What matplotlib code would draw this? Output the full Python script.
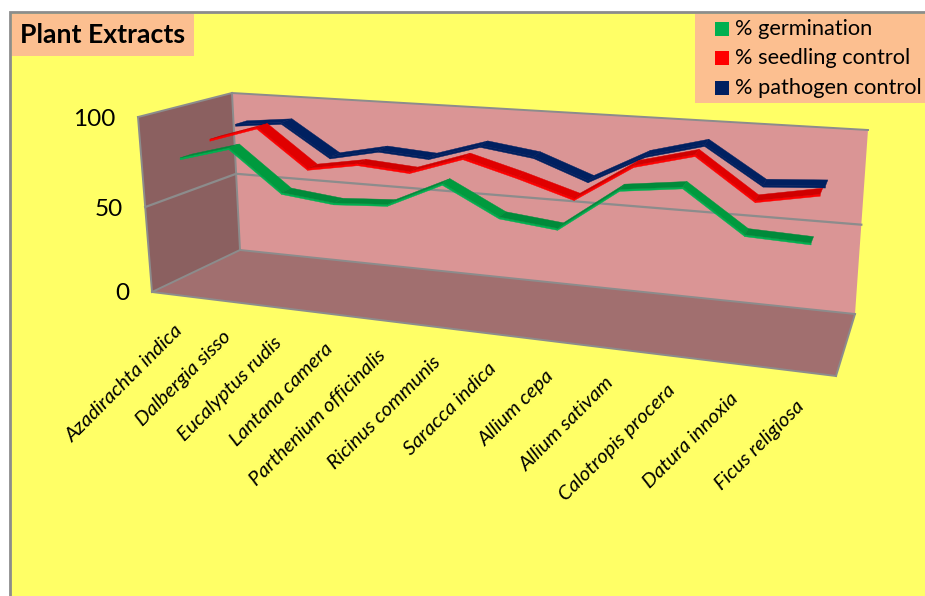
import numpy as np
import matplotlib.pyplot as plt
from matplotlib.patches import Polygon, Rectangle

plt.rcParams['font.family'] = ['Lato', 'DejaVu Sans']

categories = ['Azadirachta indica', 'Dalbergia sisso', 'Eucalyptus rudis', 'Lantana camera',
              'Parthenium officinalis', 'Ricinus communis', 'Saracca indica', 'Allium cepa',
              'Allium sativam', 'Calotropis procera', 'Datura innoxia', 'Ficus religiosa']
germination = [78, 86, 64, 61, 63, 77, 62, 59, 82, 86, 65, 64]
seedling = [83, 92, 71, 76, 74, 84, 76, 67, 87, 95, 74, 80]
pathogen = [87, 90, 72, 78, 76, 85, 81, 70, 86, 94, 75, 77]
y_ticks = [0, 50, 100]
legend_labels = ['% germination', '% seedling control', '% pathogen control']

# corners of the 3D box in pixels: (left/right, bottom/top, front/back)
BOX = {
    (0, 0, 0): (152, 292), (0, 1, 0): (138, 117), (0, 0, 1): (240, 250), (0, 1, 1): (232, 93),
    (1, 0, 0): (836, 376), (1, 1, 0): (854, 176), (1, 0, 1): (855, 314), (1, 1, 1): (868, 130),
}
GRID = '#8c8c8c'


def warp(t, k):
    return t / (t + k * (1 - t))


def project(u, value, w):
    """u along categories (0-1), value 0-100, w depth (0 front, 1 back) -> pixel"""
    fu = warp(u, 1.2)
    fv = warp(value / 100, 1.06)
    p = np.zeros(2)
    for (a, b, c), xy in BOX.items():
        weight = (fu if a else 1 - fu) * (fv if b else 1 - fv) * (w if c else 1 - w)
        p += weight * np.array(xy, dtype=float)
    return p


def cat_u(i):
    return (i + 0.65) / 12.2


def ribbon(ax, values, w0, depth, face, shade, edge):
    for i in range(len(values) - 1):
        a, b = cat_u(i), cat_u(i + 1)
        quad = [project(a, values[i], w0), project(b, values[i + 1], w0),
                project(b, values[i + 1], w0 + depth), project(a, values[i], w0 + depth)]
        col = face if values[i + 1] < values[i] - 4 else shade
        # thin lip along the front of the ribbon
        lip = [quad[0], quad[1], quad[1] + (0, 2), quad[0] + (0, 2)]
        ax.add_patch(Polygon(lip, closed=True, fc=edge, ec=edge, lw=0.3, zorder=3))
        ax.add_patch(Polygon(quad, closed=True, fc=col, ec=col, lw=0.3, zorder=3.1))


fig = plt.figure(figsize=(9.25, 5.96), dpi=100, facecolor='white')
ax = fig.add_axes([0, 0, 1, 1])
ax.set_xlim(0, 925)
ax.set_ylim(596, 0)
ax.axis('off')

# chart area and its border
ax.add_patch(Rectangle((10, 12), 930, 600, fc='#ffff66', ec='#8c8c8c', lw=2, zorder=0))

# walls and floor
walls = [
    ([(0, 0, 1), (1, 0, 1), (1, 1, 1), (0, 1, 1)], '#da9595'),
    ([(0, 0, 0), (0, 0, 1), (0, 1, 1), (0, 1, 0)], '#8b6060'),
    ([(0, 0, 0), (1, 0, 0), (1, 0, 1), (0, 0, 1)], '#a16f6f'),
]
for corners, col in walls:
    ax.add_patch(Polygon([BOX[c] for c in corners], closed=True, fc=col, ec='none', zorder=1))

# box edges
edges = [((0, 1, 0), (0, 1, 1)), ((0, 1, 1), (1, 1, 1)), ((0, 1, 0), (0, 0, 0)),
         ((0, 0, 0), (1, 0, 0)), ((1, 0, 0), (1, 0, 1)), ((1, 0, 1), (0, 0, 1)),
         ((0, 0, 1), (0, 0, 0)), ((0, 0, 1), (0, 1, 1))]
for p, q in edges:
    ax.plot([BOX[p][0], BOX[q][0]], [BOX[p][1], BOX[q][1]], color=GRID, lw=1.4, zorder=2)

# gridline and value labels
for v in y_ticks:
    a, b, c = project(0, v, 0), project(0, v, 1), project(1, v, 1)
    if 0 < v < 100:
        ax.plot([a[0], b[0], c[0]], [a[1], b[1], c[1]], color=GRID, lw=1.6, zorder=2)
    ax.text(a[0] - 22.5, a[1] + 2, str(v), ha='right', va='center', fontsize=17.5, zorder=5)

# back to front
ribbon(ax, pathogen, 0.71, 0.125, '#002060', '#002060', '#002060')
ribbon(ax, seedling, 0.42, 0.125, '#e00000', '#cf0000', '#ff0000')
ribbon(ax, germination, 0.08, 0.125, '#009a3e', '#008a3a', '#00b050')

# category labels hang off the front edge of the floor
for i, name in enumerate(categories):
    x, y = project(cat_u(i), 0, 0)
    ax.text(x - 3 + 5 * cat_u(i), y + 32, name, rotation=45, rotation_mode='anchor', ha='right', va='center',
            fontsize=14.7, style='italic', zorder=5)

# title box
ax.add_patch(Rectangle((12, 14), 182, 42, fc='#fcbf90', ec='none', zorder=4))
ax.text(20, 35, 'Plant Extracts', fontsize=19.2, fontweight='bold', va='center', zorder=5)

# legend box
ax.add_patch(Rectangle((695, 14), 235, 89, fc='#fcbf90', ec='none', zorder=4))
for y, col, label in zip([29, 58, 88], ['#00b050', '#ff0000', '#002060'], legend_labels):
    ax.add_patch(Rectangle((715, y - 7), 14, 14, fc=col, ec='none', zorder=5))
    ax.text(735, y, label, fontsize=15.7, va='center', zorder=5)

fig.savefig('out.png', dpi=100)
